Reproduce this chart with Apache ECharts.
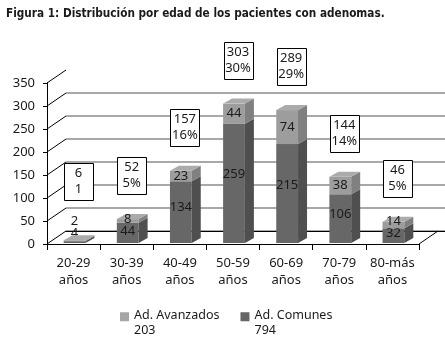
<!DOCTYPE html>
<html><head><meta charset="utf-8">
<script src="https://cdn.jsdelivr.net/npm/echarts@6/dist/echarts.min.js"></script>
<style>html,body{margin:0;padding:0;background:#fff}#c{width:445px;height:345px}</style>
</head><body><div id="c"></div>
<script>
// ---- data ----
const categories = ['20-29\naños', '30-39\naños', '40-49\naños', '50-59\naños', '60-69\naños', '70-79\naños', '80-más\naños'];
const comunes   = [4, 44, 134, 259, 215, 106, 32];
const avanzados = [2, 8, 23, 44, 74, 38, 14];
const pctLabels = ['1', '5%', '16%', '30%', '29%', '14%', '5%'];
const yTicks    = [0, 50, 100, 150, 200, 250, 300, 350];
const seriesNames = ['Ad. Avanzados', 'Ad. Comunes'];

const totals = comunes.map((v, i) => v + avanzados[i]);
const sumAv = avanzados.reduce((a, b) => a + b, 0);
const sumCo = comunes.reduce((a, b) => a + b, 0);

// ---- layout / style ----
const FONT = 'Noto Sans';
const BAR_DX = 9, BAR_DY = -5;      // bar depth
const WALL_DX = 19, WALL_DY = -13;  // wall depth
const DARK = {front: '#676767', side: '#4f4f4f', top: '#7a7a7a'};
const LIGHT = {front: '#9d9d9d', side: '#808080', top: '#ababab'};

function segment(api, i, v0, v1, col, drawTop) {
  const p0 = api.coord([i, v0]), p1 = api.coord([i, v1]);
  const bw = api.size([1, 0])[0] * 0.41;
  const xl = p0[0] - bw / 2 + 1, xr = xl + bw;
  const yb = p0[1] - 1, yt = p1[1] - 1;
  const els = [
    {type: 'rect', shape: {x: xl, y: yt, width: bw, height: yb - yt}, style: {fill: col.front}},
    {type: 'polygon', shape: {points: [[xr, yb], [xr + BAR_DX, yb + BAR_DY], [xr + BAR_DX, yt + BAR_DY], [xr, yt]]}, style: {fill: col.side}}
  ];
  if (drawTop) els.push({type: 'polygon', shape: {points: [[xl, yt], [xr, yt], [xr + BAR_DX, yt + BAR_DY], [xl + BAR_DX, yt + BAR_DY]]}, style: {fill: col.top}});
  return {els, cx: (xl + xr) / 2, yb, yt};
}
function darkLabelY(api, i, d) {
  const b = api.coord([i, 0])[1] - 1, t = api.coord([i, d])[1] - 1;
  return Math.min(b - 0.58 * (b - t), b - 10);
}
const txt = (x, y, s) => ({type: 'text', style: {x, y, text: String(s), fill: '#1a1a1a', font: '13px "' + FONT + '"', textAlign: 'center', textVerticalAlign: 'middle'}});

const chart = echarts.init(document.getElementById('c'), null, {renderer: 'canvas'});
chart.setOption({
  animation: false,
  backgroundColor: '#fff',
  title: {
    text: 'Figura 1: Distribución por edad de los pacientes con adenomas.',
    left: 6, top: 8, padding: 0,
    textStyle: {fontFamily: '"DejaVu Sans Condensed", Roboto, sans-serif', fontWeight: 'bold', fontSize: 11.7, color: '#1a1a1a'}
  },
  grid: [
    {left: 47, right: 26, top: 83, bottom: 101},
    {left: 66, right: 0, top: 70, bottom: 114}
  ],
  legend: {
    data: seriesNames,
    left: 120, top: 308, padding: 0,
    itemWidth: 9, itemHeight: 22, itemGap: 21,
    icon: 'path://M0,0H10V10H0Z M0,0V24',
    itemStyle: {borderWidth: 0},
    formatter: n => n + '\n' + (n === seriesNames[0] ? sumAv : sumCo),
    textStyle: {fontFamily: FONT, fontSize: 12.5, lineHeight: 15, color: '#1a1a1a'}
  },
  xAxis: [
    {
      gridIndex: 0, type: 'category', data: categories,
      axisLine: {lineStyle: {color: '#000', width: 1}},
      axisTick: {show: true, length: 6, lineStyle: {color: '#000'}},
      axisLabel: {margin: 11, color: '#1a1a1a', fontFamily: FONT, fontSize: 13, lineHeight: 17, interval: 0},
      splitLine: {show: false}
    },
    {
      gridIndex: 1, type: 'value', min: 0, max: 1, position: 'top',
      axisLine: {show: true, lineStyle: {color: '#000', width: 1}},
      axisTick: {show: false}, axisLabel: {show: false}, splitLine: {show: false}
    }
  ],
  yAxis: [
    {
      gridIndex: 0, type: 'value', min: 0, max: 350, interval: 50,
      axisLine: {show: true, lineStyle: {color: '#000', width: 1}},
      axisTick: {show: true, length: 4, lineStyle: {color: '#000'}},
      axisLabel: {margin: 12, color: '#1a1a1a', fontFamily: FONT, fontSize: 13},
      splitLine: {show: false}
    },
    {
      gridIndex: 1, type: 'value', min: 0, max: 350, interval: 50,
      axisLine: {show: false}, axisTick: {show: false}, axisLabel: {show: false},
      splitLine: {show: true, lineStyle: {width: 2, color: ['#a8a8a8', '#a8a8a8', '#a8a8a8', '#a8a8a8', '#a8a8a8', '#a8a8a8', '#a8a8a8', 'rgba(0,0,0,0)']}}
    }
  ],
  series: [
    {
      // wall diagonals & floor edges
      type: 'custom', xAxisIndex: 0, yAxisIndex: 0, z: 1, silent: true,
      data: yTicks.map(v => [0, v]),
      encode: {x: 0, y: 1},
      renderItem: (params, api) => {
        const cs = params.coordSys;
        const y = api.coord([0, api.value(1)])[1];
        const els = [{type: 'line', shape: {x1: cs.x, y1: y, x2: cs.x + WALL_DX, y2: y + WALL_DY}, style: {stroke: '#000', lineWidth: 1}}];
        if (api.value(1) === 0) {
          const xr = cs.x + cs.width;
          els.push({type: 'line', shape: {x1: xr, y1: y, x2: xr + WALL_DX, y2: y + WALL_DY}, style: {stroke: '#000', lineWidth: 1}});
        }
        return {type: 'group', children: els};
      }
    },
    {
      name: seriesNames[1], type: 'custom', xAxisIndex: 0, yAxisIndex: 0, z: 3,
      itemStyle: {color: '#666666'},
      data: comunes.map((v, i) => [i, v, avanzados[i]]),
      encode: {x: 0, y: 1},
      renderItem: (params, api) => {
        const i = api.value(0), d = api.value(1), l = api.value(2);
        const s = segment(api, i, 0, d, DARK, l === 0);
        s.els.push(txt(s.cx, darkLabelY(api, i, d), d));
        return {type: 'group', children: s.els};
      }
    },
    {
      name: seriesNames[0], type: 'custom', xAxisIndex: 0, yAxisIndex: 0, z: 3,
      itemStyle: {color: '#a6a6a6'},
      data: avanzados.map((v, i) => [i, comunes[i], v]),
      encode: {x: 0, y: [1, 2]},
      renderItem: (params, api) => {
        const i = api.value(0), d = api.value(1), l = api.value(2);
        const s = segment(api, i, d, d + l, LIGHT, true);
        const mid = (api.coord([i, d])[1] + api.coord([i, d + l])[1]) / 2 - 1;
        s.els.push(txt(s.cx, Math.min(mid, darkLabelY(api, i, d) - 12), l));
        return {type: 'group', children: s.els};
      }
    },
    {
      // total / percentage boxes
      type: 'custom', xAxisIndex: 0, yAxisIndex: 0, z: 4, silent: true,
      data: totals.map((t, i) => [i, t]),
      encode: {x: 0, y: 1},
      renderItem: (params, api) => {
        const i = api.value(0), t = api.value(1);
        const p = api.coord([i, Math.max(t, 40)]);
        const cx = p[0] + 5, bottom = p[1] - 26, w = 29, h = 37;
        return {type: 'group', children: [
          {type: 'rect', shape: {x: Math.round(cx - w / 2) + 0.5, y: Math.round(bottom - h) + 0.5, width: w, height: h}, style: {fill: '#fff', stroke: '#000', lineWidth: 1}},
          {type: 'text', style: {x: cx, y: bottom - h / 2, text: t + '\n' + pctLabels[i], fill: '#1a1a1a', font: '13px "' + FONT + '"', lineHeight: 16, textAlign: 'center', textVerticalAlign: 'middle'}}
        ]};
      }
    }
  ]
});
</script></body></html>
